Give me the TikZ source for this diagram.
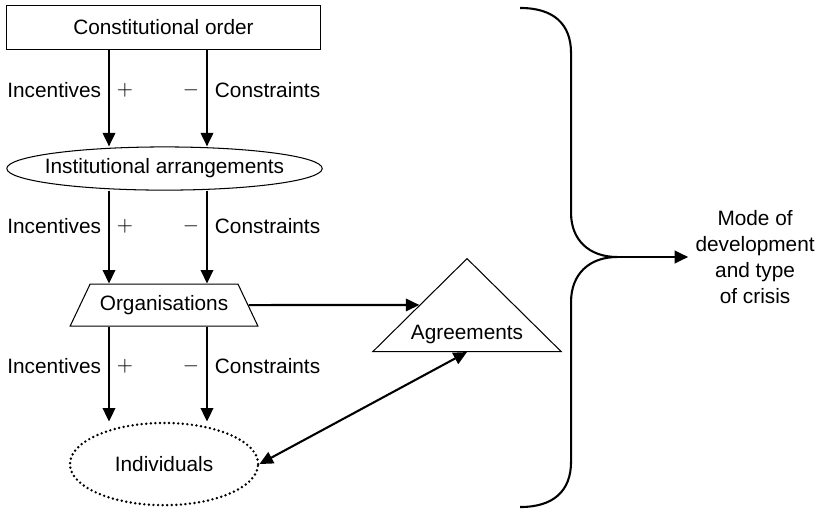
\documentclass[tikz,border=0pt]{standalone}
\usepackage{fontspec}
\setmainfont{Liberation Sans}
\usetikzlibrary{arrows.meta,shapes.geometric}

\begin{document}
\begin{tikzpicture}[
  >={Triangle[length=6.5pt, width=6pt]},
  font=\fontsize{10}{12.6}\selectfont,
  flow/.style  = {->, line width=1pt},
  order/.style = {draw, line width=0.5pt, minimum width=5.32cm, minimum height=0.73cm},
  inst/.style  = {draw, ellipse, line width=0.5pt, inner xsep=-0.15cm, inner ysep=0pt,
                  minimum width=5.33cm, minimum height=0.73cm},
  orgs/.style  = {draw, trapezium, trapezium left angle=60, trapezium right angle=60,
                  trapezium stretches=true, line width=0.5pt,
                  minimum width=3.18cm, minimum height=0.71cm},
  indv/.style  = {draw, ellipse, line width=1.3pt, dash pattern=on 0pt off 2.2pt,
                  line cap=round, minimum width=3.18cm, minimum height=1.39cm},
  agr/.style   = {draw, isosceles triangle, isosceles triangle apex angle=90,
                  isosceles triangle stretches, shape border rotate=90,
                  line width=0.5pt, inner sep=1pt,
                  minimum width=3.18cm, minimum height=1.57cm},
]
\useasboundingbox (0,0) rectangle (13.84,-8.585);

%% the column of levels
\node[order] (const) at (2.763,-0.465) {Constitutional order};
\node[inst]  (inst)  at (2.780,-2.848) {Institutional arrangements};
\node[orgs]  (org)   at (2.772,-5.155) {Organisations};
\node[indv]  (ind)   at (2.772,-7.842) {Individuals};
\node[agr, anchor=lower side] (agr) at (7.892,-5.949) {Agreements};

\coordinate (L) at (1.842,0);
\coordinate (R) at (3.498,0);

%% incentives and constraints between levels
\draw[flow] (const.south -| L) -- (inst.north -| L)
  node[pos=.42, left] {Incentives} node[pos=.42, right] {$+$};
\draw[flow] (const.south -| R) -- (inst.north -| R)
  node[pos=.42, left] {$-$} node[pos=.42, right] {Constraints};
\draw[flow] (inst.south -| L) -- (org.north -| L)
  node[pos=.38, left] {Incentives} node[pos=.38, right] {$+$};
\draw[flow] (inst.south -| R) -- (org.north -| R)
  node[pos=.38, left] {$-$} node[pos=.38, right] {Constraints};
\draw[flow] (org.south -| L) -- (ind.north -| L)
  node[pos=.42, left] {Incentives} node[pos=.42, right] {$+$};
\draw[flow] (org.south -| R) -- (ind.north -| R)
  node[pos=.42, left] {$-$} node[pos=.42, right] {Constraints};

%% agreements
\draw[flow] (org.east) -- (agr.left side);
\draw[flow, <->] (ind.east) -- (agr.lower side);

%% the brace and its outcome
\draw[line width=1pt] (8.79,-0.135) .. controls (9.35,-0.135) and (9.65,-0.4) .. (9.65,-0.9)
  -- (9.65,-3.6) .. controls (9.65,-4.05) and (9.95,-4.343) .. (10.43,-4.343)
  coordinate (tip)
  .. controls (9.95,-4.343) and (9.65,-4.64) .. (9.65,-5.1)
  -- (9.65,-7.8) .. controls (9.65,-8.3) and (9.35,-8.568) .. (8.79,-8.568);
\node[align=center] (mode) at (12.76,-4.343) {Mode of\\development\\and type\\of crisis};
\draw[flow] (tip) -- (mode.west);

\end{tikzpicture}
\end{document}
